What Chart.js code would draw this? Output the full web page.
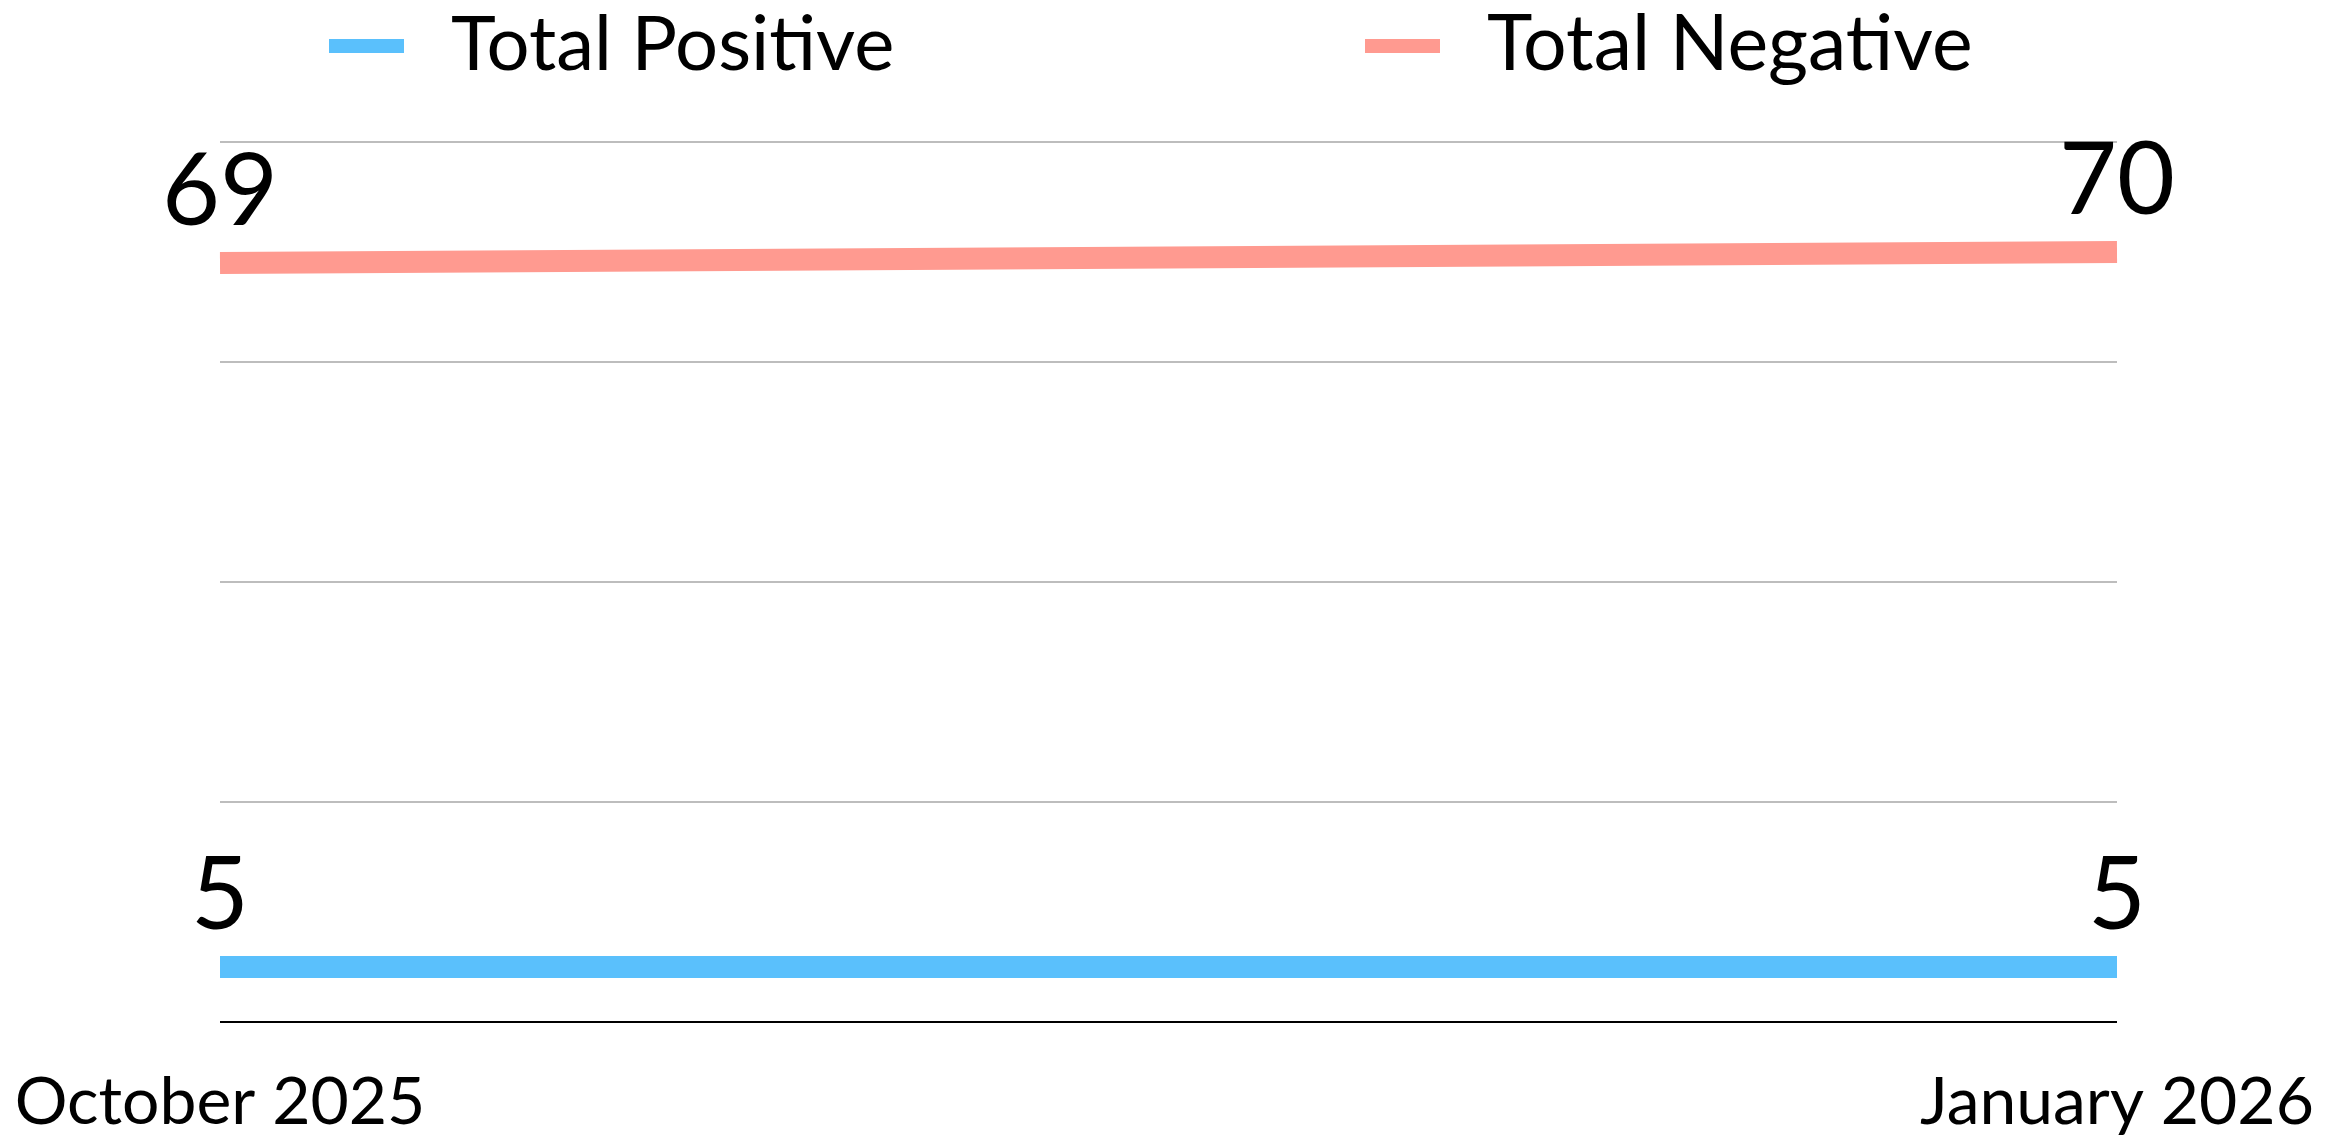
<!DOCTYPE html>
<html lang="en">
<head>
    <meta charset="UTF-8">
    <title>Total Positive vs Total Negative</title>
    <style>
        html, body {
            margin: 0;
            padding: 0;
            background-color: #fff;
        }

        .chart-box {
            position: relative;
            width: 2345px;
            height: 1140px;
        }
    </style>
</head>
<body>
    <div class="chart-box">
        <canvas id="trend-chart"></canvas>
    </div>

    <script src="https://cdn.jsdelivr.net/npm/chart.js"></script>
    <script>
        const months = ['October 2025', 'January 2026'];
        const totalPositive = [5, 5];
        const totalNegative = [69, 70];
        const seriesNames = ['Total Positive', 'Total Negative'];
        const seriesColors = ['#5ac0fc', '#ff9a90'];

        const fontName = 'Lato, "Noto Sans", sans-serif';

        // value labels sitting just above each point
        const pointLabels = {
            id: 'pointLabels',
            afterDatasetsDraw(chart) {
                const ctx = chart.ctx;
                ctx.save();
                ctx.font = `100px ${fontName}`;
                ctx.fillStyle = '#000';
                ctx.textAlign = 'center';
                ctx.textBaseline = 'alphabetic';
                chart.data.datasets.forEach((ds, i) => {
                    chart.getDatasetMeta(i).data.forEach((pt, j) => {
                        ctx.fillText(String(ds.data[j]), pt.x, pt.y - 38);
                    });
                });
                ctx.restore();
            }
        };

        // legend with the wide spacing of the original
        const spreadLegend = {
            id: 'spreadLegend',
            afterDraw(chart) {
                const ctx = chart.ctx;
                const starts = [329, 1365];
                const sizes = [76, 77];
                ctx.save();
                ctx.textBaseline = 'alphabetic';
                ctx.textAlign = 'left';
                chart.data.datasets.forEach((ds, i) => {
                    ctx.fillStyle = ds.borderColor;
                    ctx.fillRect(starts[i], 39, 75, 14);
                    ctx.font = `${sizes[i]}px ${fontName}`;
                    ctx.fillStyle = '#000';
                    ctx.fillText(ds.label, starts[i] + 122, 70);
                });
                ctx.restore();
            }
        };

        new Chart(document.getElementById('trend-chart'), {
            type: 'line',
            data: {
                labels: months,
                datasets: [
                    {
                        label: seriesNames[0],
                        data: totalPositive,
                        borderColor: seriesColors[0],
                        backgroundColor: seriesColors[0],
                        borderWidth: 22,
                        borderCapStyle: 'butt',
                        pointRadius: 0,
                        tension: 0
                    },
                    {
                        label: seriesNames[1],
                        data: totalNegative,
                        borderColor: seriesColors[1],
                        backgroundColor: seriesColors[1],
                        borderWidth: 22,
                        borderCapStyle: 'butt',
                        pointRadius: 0,
                        tension: 0
                    }
                ]
            },
            options: {
                responsive: true,
                maintainAspectRatio: false,
                animation: false,
                layout: {
                    padding: { left: 220, right: 228, top: 142, bottom: 0 }
                },
                plugins: {
                    legend: { display: false },
                    tooltip: { enabled: false }
                },
                scales: {
                    x: {
                        offset: false,
                        grid: { display: false },
                        border: { display: false },
                        ticks: {
                            color: '#000',
                            font: { family: fontName, size: 66 },
                            padding: 33,
                            maxRotation: 0
                        },
                        afterFit(scale) {
                            // let the layout padding alone decide the plot edges
                            scale.paddingLeft = 0;
                            scale.paddingRight = 0;
                            scale.height = 118;
                        }
                    },
                    y: {
                        min: 0,
                        max: 80,
                        ticks: { display: false, stepSize: 20 },
                        border: { display: false },
                        grid: {
                            drawTicks: false,
                            lineWidth: 2,
                            color: (c) => c.tick && c.tick.value === 0 ? '#000' : '#bdbdbd'
                        },
                        afterFit(scale) {
                            scale.width = 0;
                        }
                    }
                }
            },
            plugins: [pointLabels, spreadLegend]
        });
    </script>
</body>
</html>
